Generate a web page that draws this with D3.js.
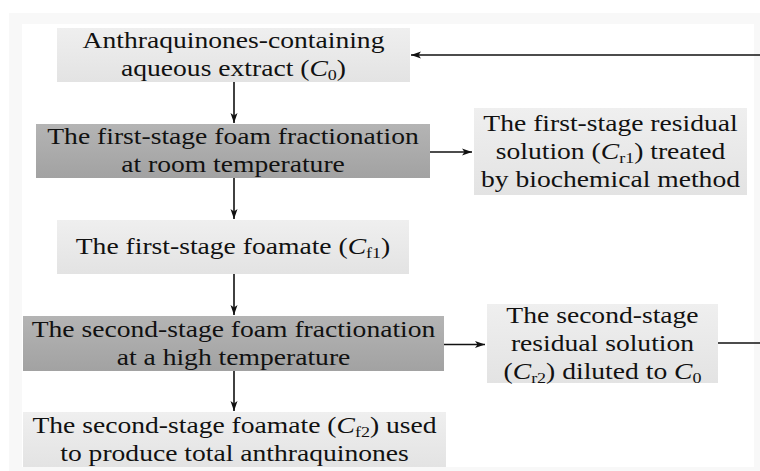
<!DOCTYPE html>
<html><head><meta charset="utf-8">
<script src="https://cdn.jsdelivr.net/npm/d3@7"></script>
<style>body{margin:0;background:#fff}svg{display:block}
text{font-family:"Liberation Serif","Times New Roman",Times,"DejaVu Serif",serif}</style>
</head><body><svg id="c" width="760" height="471"></svg>
<script>
// Node labels (markup: {x} italic, [x] subscript)
const nodeIds = ["c0","s1","r1","f1","s2","r2","f2"];
const nodeLines = [
  ["Anthraquinones-containing","aqueous extract ({C}[0])"],
  ["The first-stage foam fractionation","at room temperature"],
  ["The first-stage residual","solution ({C}[r1]) treated","by biochemical method"],
  ["The first-stage foamate ({C}[f1])"],
  ["The second-stage foam fractionation","at a high temperature"],
  ["The second-stage","residual solution","({C}[r2]) diluted to {C}[0]"],
  ["The second-stage foamate ({C}[f2]) used","to produce total anthraquinones"]
];
const nodeShade = ["light","dark","light","light","dark","light","light"];
const edges = [["c0","s1"],["s1","r1"],["s1","f1"],["f1","s2"],["s2","r2"],["s2","f2"],["r2","c0"]];

// layout
const box = {
  c0:[57,28,410,82], s1:[36,124,430,178], r1:[474,108,747,195], f1:[57,220,409,274],
  s2:[23,316,444,371], r2:[487,304,718,383], f2:[23,412,446,467]
};
const svg = d3.select("#c");
const defs = svg.append("defs");
const gl = defs.append("linearGradient").attr("id","gl").attr("x1",0).attr("y1",0).attr("x2",0).attr("y2",1);
gl.append("stop").attr("offset",0).attr("stop-color","#efefef");
gl.append("stop").attr("offset",1).attr("stop-color","#e3e3e3");
const gd = defs.append("linearGradient").attr("id","gd").attr("x1",0).attr("y1",0).attr("x2",0).attr("y2",1);
gd.append("stop").attr("offset",0).attr("stop-color","#b4b4b4");
gd.append("stop").attr("offset",1).attr("stop-color","#a2a2a2");
const mk = defs.append("marker").attr("id","ah").attr("viewBox","0 0 10 10").attr("refX",10).attr("refY",5)
  .attr("markerWidth",10).attr("markerHeight",10).attr("markerUnits","userSpaceOnUse").attr("orient","auto");
mk.append("path").attr("d","M0,1.5 L10,5 L0,8.5 L2.5,5 Z").attr("fill","#111");

// frame
svg.append("rect").attr("x",9).attr("y",13).attr("width",751).attr("height",458).attr("fill","#f8f8f8");
svg.append("rect").attr("x",22).attr("y",24).attr("width",732).attr("height",443).attr("fill","#fff");

const SX = 1.2;
nodeIds.forEach((id,i)=>{
  const [x0,y0,x1,y1] = box[id];
  svg.append("rect").attr("x",x0).attr("y",y0).attr("width",x1-x0).attr("height",y1-y0)
    .attr("fill", nodeShade[i]==="dark"?"url(#gd)":"url(#gl)");
  const lines = nodeLines[i];
  const lh = 28, cx=(x0+x1)/2, cy=(y0+y1)/2;
  lines.forEach((ln,j)=>{
    const t = svg.append("text")
      .attr("transform",`translate(${cx},${cy + (j-(lines.length-1)/2)*lh + 7}) scale(${SX},1)`)
      .attr("text-anchor","middle").attr("font-size",23).attr("fill","#111");
    const re = /\{([^}]*)\}|\[([^\]]*)\]|([^{\[]+)/g; let m; let shift=0;
    while((m=re.exec(ln))){
      if(m[1]!==undefined){ t.append("tspan").attr("font-style","italic").attr("dy",-shift).text(m[1]); shift=0; }
      else if(m[2]!==undefined){ t.append("tspan").attr("font-size",15).attr("dy",4-shift).text(m[2]); shift=4; }
      else { t.append("tspan").attr("dy",-shift).text(m[3]); shift=0; }
    }
  });
});

const line = d3.line();
function draw(pts,arrow){
  const p=svg.append("path").attr("d",line(pts)).attr("stroke","#111").attr("stroke-width",1.6).attr("fill","none");
  if(arrow) p.attr("marker-end","url(#ah)");
}
edges.forEach(([a,b])=>{
  const A=box[a],B=box[b];
  if(a==="r2"){
    draw([[A[2],343],[760,343]],false);
    draw([[760,55],[B[2]+1,55]],true);
  } else if(B[1]>A[3]+10 && B[0]<300){
    draw([[234,A[3]],[234,B[1]-1]],true);
  } else {
    const y=(A[1]+A[3])/2+1;
    draw([[A[2],y],[B[0]-2,y]],true);
  }
});
</script></body></html>
